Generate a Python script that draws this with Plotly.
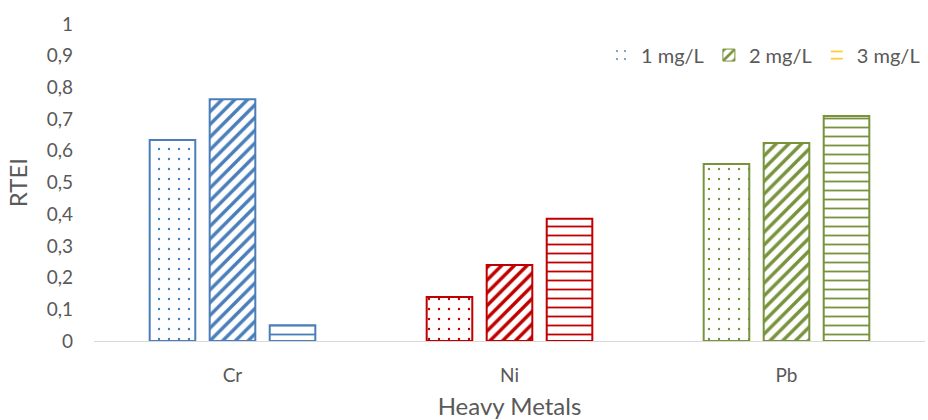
import plotly.graph_objects as go

metals = ["Cr", "Ni", "Pb"]
series_names = ["1 mg/L", "2 mg/L", "3 mg/L"]
v1 = [0.634, 0.139, 0.558]
v2 = [0.763, 0.240, 0.625]
v3 = [0.050, 0.386, 0.710]
metal_colors = ["#4a7ebb", "#c00000", "#77933c"]
legend_colors = ["#4a7ebb", "#77933c", "#ffc000"]
patterns = [".", "/", "-"]
pat_size = {".": 10, "/": 9, "-": 9}
pat_sol = {".": 0.045, "/": 0.38, "-": 0.2}

fig = go.Figure()
for name, vals, shp in zip(series_names, [v1, v2, v3], patterns):
    fig.add_trace(go.Bar(
        x=metals, y=vals, name=name, showlegend=False,
        marker=dict(color="white", line=dict(color=metal_colors, width=2),
                    pattern=dict(shape=shp, fgcolor=metal_colors, bgcolor="white",
                                 fillmode="overlay", fgopacity=1,
                                 size=pat_size[shp], solidity=pat_sol[shp])),
    ))
for name, col, shp in zip(series_names, legend_colors, patterns):
    fig.add_trace(go.Bar(
        x=[None], y=[None], name=name, showlegend=True, xaxis="x2", yaxis="y2",
        marker=dict(color="white", line=dict(color=col if shp == "/" else "white", width=1 if shp == "/" else 0),
                    pattern=dict(shape=shp, fgcolor=col, bgcolor="white", fillmode="overlay",
                                 fgopacity=1, size=pat_size[shp], solidity=pat_sol[shp])),
    ))

font = dict(family="Lato, Open Sans, sans-serif", size=19, color="#595959")
title_font = dict(family="Lato, Open Sans, sans-serif", size=24, color="#595959")
fig.update_layout(
    width=928, height=420,
    margin=dict(l=94, r=3, t=24, b=79),
    paper_bgcolor="white", plot_bgcolor="white",
    barmode="group", bargap=0.35, bargroupgap=0.24,
    font=font,
    separators=", ",
    legend=dict(orientation="h", x=1.0, xanchor="right",
                y=0.902, yanchor="middle",
                font=dict(family="Lato, Open Sans, sans-serif", size=20, color="#595959"),
                bgcolor="rgba(0,0,0,0)", itemwidth=30, traceorder="normal"),
    xaxis=dict(showgrid=False, showline=True, linecolor="#d9d9d9", linewidth=1,
               ticks="", ticklabelstandoff=17, automargin=False,
               title=dict(text="Heavy Metals", font=title_font, standoff=17)),
    yaxis=dict(range=[0, 1], dtick=0.1, showgrid=False, zeroline=False, showline=False,
               ticks="", tickformat=".1~f", ticklabelstandoff=20, automargin=False,
               title=dict(text="RTEI", font=title_font, standoff=12)),
    xaxis2=dict(visible=False, overlaying="x", range=[0, 1]),
    yaxis2=dict(visible=False, overlaying="y", range=[0, 1]),
)
fig.write_html("out.html")
